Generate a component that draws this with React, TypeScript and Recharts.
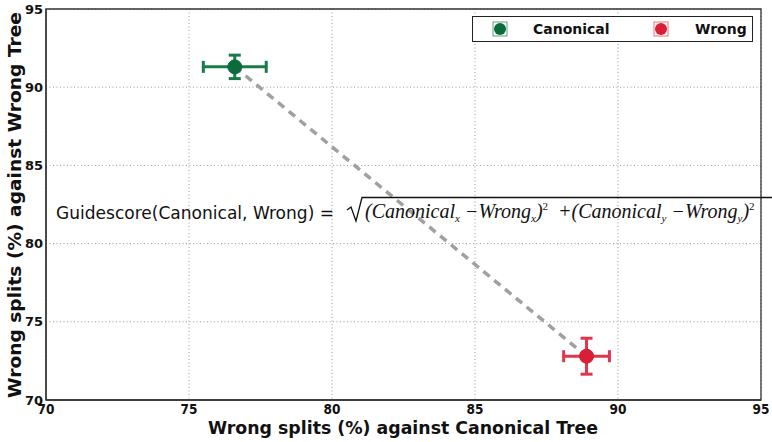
import React from 'react';
import {
  ErrorBar,
  ReferenceArea,
  ReferenceLine,
  Scatter,
  ScatterChart,
  CartesianGrid,
  Label,
  XAxis,
  YAxis,
} from 'recharts';

const seriesNames = ['Canonical', 'Wrong'];
const xValues = [76.6, 88.9];
const yValues = [91.3, 72.8];
const xErrors = [1.1, 0.8];
const yErrors = [0.75, 1.15];
const axisTicks = [70, 75, 80, 85, 90, 95];

const COLORS = {
  Canonical: { marker: '#0b6b3a', bar: '#177a47' },
  Wrong: { marker: '#d81f35', bar: '#e0364b' },
} as const;

const SANS = '"DejaVu Sans", sans-serif';
const SANS_COND = '"DejaVu Sans Condensed", "DejaVu Sans", sans-serif';
const SERIF_IT = '"Liberation Serif", "DejaVu Serif", serif';

const seriesData = seriesNames.map((name, i) => ({
  name,
  points: [{ x: xValues[i], y: yValues[i], xErr: xErrors[i], yErr: yErrors[i] }],
}));

const Dot = (color: string) => (props: any) => (
  <circle cx={props.cx} cy={props.cy} r={7} fill={color} stroke={color} />
);

const LegendMarker = ({ color, bar }: { color: string; bar: string }) => (
  <svg width={16} height={16} style={{ display: 'block' }}>
    <rect x={1} y={1} width={14} height={14} fill="none" stroke={bar} strokeWidth={1} opacity={0.7} />
    <circle cx={8} cy={8} r={6} fill={color} />
  </svg>
);

// legend drawn as a plain overlay so it doesn't eat into the plot area
const LegendBox = () => (
  <div
    style={{
      position: 'absolute',
      top: 16,
      left: 472,
      width: 281,
      height: 26,
      boxSizing: 'border-box',
      border: '1.5px solid #222',
      background: '#fff',
      display: 'flex',
      alignItems: 'center',
      fontFamily: SANS,
      fontWeight: 'bold',
      fontSize: 14,
      color: '#111',
    }}
  >
    <div style={{ marginLeft: 19 }}>
      <LegendMarker color={COLORS.Canonical.marker} bar={COLORS.Canonical.bar} />
    </div>
    <span style={{ marginLeft: 25, width: 79 }}>{seriesNames[0]}</span>
    <div style={{ marginLeft: 41 }}>
      <LegendMarker color={COLORS.Wrong.marker} bar={COLORS.Wrong.bar} />
    </div>
    <span style={{ marginLeft: 26 }}>{seriesNames[1]}</span>
  </div>
);

const Equation = () => (
  <svg
    width={772}
    height={442}
    style={{ position: 'absolute', left: 0, top: 0, pointerEvents: 'none' }}
  >
    <text x={56} y={219} fontFamily={SANS} fontSize={17} fill="#111" textLength={278} lengthAdjust="spacingAndGlyphs">
      Guidescore(Canonical, Wrong) =
    </text>
    <path d="M347 210 L351 207 L356 221 L362 197.5 L772 197.5" fill="none" stroke="#111" strokeWidth={1.3} />
    <text x={365} y={218} fontFamily={SERIF_IT} fontStyle="italic" fontSize={20} fill="#111">
      <tspan>(Canonical</tspan>
      <tspan fontSize={11} dy={4}>x</tspan>
      <tspan dy={-4}>{' \u2212Wrong'}</tspan>
      <tspan fontSize={11} dy={4}>x</tspan>
      <tspan dy={-4}>)</tspan>
      <tspan fontSize={11} fontStyle="normal" dy={-8}>2</tspan>
      <tspan dy={8}>{'\u00a0 +(Canonical'}</tspan>
      <tspan fontSize={11} dy={4}>y</tspan>
      <tspan dy={-4}>{' \u2212Wrong'}</tspan>
      <tspan fontSize={11} dy={4}>y</tspan>
      <tspan dy={-4}>)</tspan>
      <tspan fontSize={11} fontStyle="normal" dy={-8}>2</tspan>
    </text>
  </svg>
);

export default function App() {
  return (
    <div style={{ position: 'absolute', left: 0, top: 0, width: 772, height: 442, background: '#fff' }}>
      <ScatterChart width={772} height={442} margin={{ top: 9, right: 11, left: 0, bottom: 0 }}>
        <CartesianGrid stroke="#999" strokeDasharray="1 2.5" strokeWidth={1} />
        <XAxis
          type="number"
          dataKey="x"
          domain={[70, 95]}
          ticks={axisTicks}
          allowDataOverflow
          height={42}
          tickLine={false}
          tickSize={0}
          tickMargin={4}
          axisLine={{ stroke: '#333', strokeWidth: 1.3 }}
          tick={{ fontFamily: SANS_COND, fontWeight: 'bold', fontSize: 13.5, fill: '#111' }}
        >
          <Label
            content={() => (
              <text
                x={403}
                y={434}
                textAnchor="middle"
                fontFamily={SANS_COND}
                fontWeight="bold"
                fontSize={18}
                fill="#111"
                textLength={390}
                lengthAdjust="spacingAndGlyphs"
              >
                Wrong splits (%) against Canonical Tree
              </text>
            )}
          />
        </XAxis>
        <YAxis
          type="number"
          dataKey="y"
          domain={[70, 95]}
          ticks={axisTicks}
          allowDataOverflow
          width={46}
          tickLine={false}
          tickSize={0}
          tickMargin={3}
          axisLine={{ stroke: '#333', strokeWidth: 1.3 }}
          tick={{ fontFamily: SANS, fontWeight: 'bold', fontSize: 13, fill: '#111' }}
        >
          <Label
            content={() => (
              <text
                x={21}
                y={205}
                transform="rotate(-90 21 205)"
                textAnchor="middle"
                fontFamily={SANS}
                fontWeight="bold"
                fontSize={17}
                fill="#111"
                textLength={386}
                lengthAdjust="spacingAndGlyphs"
              >
                Wrong splits (%) against Wrong Tree
              </text>
            )}
          />
        </YAxis>
        <ReferenceArea x1={70} x2={95} y1={70} y2={95} fill="none" stroke="#333" strokeWidth={1.3} />
        <ReferenceLine
          segment={[
            { x: xValues[0], y: yValues[0] },
            { x: xValues[1], y: yValues[1] },
          ]}
          stroke="#a0a0a0"
          strokeWidth={3.5}
          strokeDasharray="8 6"
        />
        {seriesData.map((s) => {
          const c = COLORS[s.name as keyof typeof COLORS];
          return (
            <Scatter
              key={s.name}
              name={s.name}
              data={s.points}
              isAnimationActive={false}
              shape={Dot(c.marker)}
            >
              <ErrorBar dataKey="xErr" direction="x" width={6} stroke={c.bar} strokeWidth={3} />
              <ErrorBar dataKey="yErr" direction="y" width={6} stroke={c.bar} strokeWidth={3} />
            </Scatter>
          );
        })}
      </ScatterChart>
      <Equation />
      <LegendBox />
    </div>
  );
}
